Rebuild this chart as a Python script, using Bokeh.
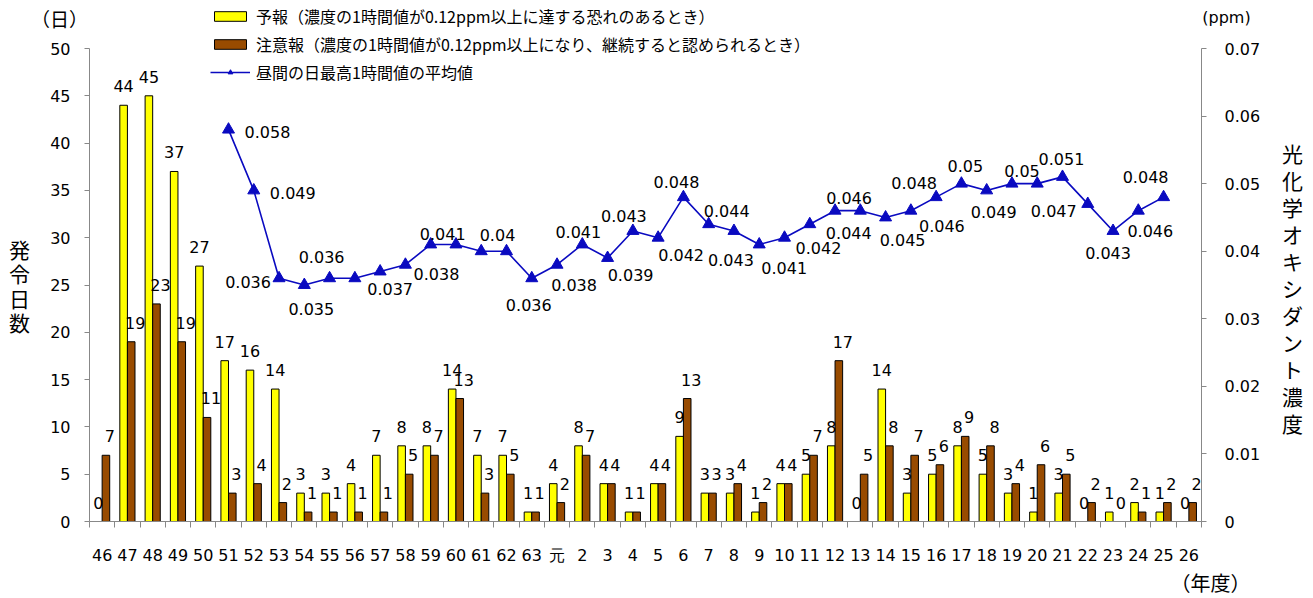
from bokeh.plotting import figure
from bokeh.models import (Range1d, LinearAxis, FixedTicker, CustomJSTickFormatter,
                          ColumnDataSource, Label, Legend, LegendItem)
from bokeh.embed import file_html
from bokeh.resources import INLINE
from bokeh.core.properties import value

# ---------------- data ----------------
YEARS = ["46", "47", "48", "49", "50", "51", "52", "53", "54", "55", "56", "57",
         "58", "59", "60", "61", "62", "63", "元", "2", "3", "4", "5", "6", "7",
         "8", "9", "10", "11", "12", "13", "14", "15", "16", "17", "18", "19",
         "20", "21", "22", "23", "24", "25", "26"]

FORECAST = [0, 44, 45, 37, 27, 17, 16, 14, 3, 3, 4, 7, 8, 8, 14, 7, 7, 1, 4, 8,
            4, 1, 4, 9, 3, 3, 1, 4, 5, 8, 0, 14, 3, 5, 8, 5, 3, 1, 3, 0, 1, 2, 1, 0]

WARNING = [7, 19, 23, 19, 11, 3, 4, 2, 1, 1, 1, 1, 5, 7, 13, 3, 5, 1, 2, 7,
           4, 1, 4, 13, 3, 4, 2, 4, 7, 17, 5, 8, 7, 6, 9, 8, 4, 6, 5, 2, 0, 1, 2, 2]

PPM = [None, None, None, None, None, 0.058, 0.049, 0.036, 0.035, 0.036, 0.036,
       0.037, 0.038, 0.041, 0.041, 0.040, 0.040, 0.036, 0.038, 0.041, 0.039,
       0.043, 0.042, 0.048, 0.044, 0.043, 0.041, 0.042, 0.044, 0.046, 0.046,
       0.045, 0.046, 0.048, 0.050, 0.049, 0.050, 0.050, 0.051, 0.047, 0.043,
       0.046, 0.048, None]

LEFT_TICKS = [0, 5, 10, 15, 20, 25, 30, 35, 40, 45, 50]
RIGHT_TICKS = [0, 0.01, 0.02, 0.03, 0.04, 0.05, 0.06, 0.07]
LEFT_MAX = 50
RIGHT_MAX = 0.07

LEGEND_LABELS = ["予報（濃度の1時間値が0.12ppm以上に達する恐れのあるとき）",
                 "注意報（濃度の1時間値が0.12ppm以上になり、継続すると認められるとき）",
                 "昼間の日最高1時間値の平均値"]
LEFT_TITLE = "発令日数"
RIGHT_TITLE = "光化学オキシダント濃度"
LEFT_UNIT = "（日）"
RIGHT_UNIT = "(ppm)"
X_UNIT = "（年度）"

# placement of line value labels (pixel offsets); None = label hidden as in original
LINE_LABEL_OFFSETS = [None, None, None, None, None,
                      (39, 2), (39, 3), (-31, 4), (7, 24), (-8, -21), None,
                      (10, 18), (31, 9), (12, -10), None, None, (-9, -16), (-3, 27),
                      (17, 20), (-4, -12), (23, 17), (-9, -15), (23, 17), (-7, -15),
                      (18, -13), (-3, 29), (25, 24), (34, 10), (39, 9), (14, -13),
                      None, (17, 23), (31, 15), (-22, -14), (4, -18), (7, 22),
                      (10, -13), None, (-1, -18), (-34, 7), (-5, 22), (12, 20),
                      (-18, -20), None]

# ---------------- layout / style ----------------
W, H = 1313, 598
PLOT_L, PLOT_R, PLOT_T, PLOT_B = 89, 1201, 48, 521   # plot-area edges in px

YELLOW = "#FFFF00"
BROWN = "#984B00"
BLUE = "#0A0AC0"
AXIS_GRAY = "#888888"
NUM_FONT = "DejaVu Sans"
JP_FONT = "Noto Sans CJK JP"

n = len(YEARS)
idx = list(range(n))

# ranges chosen so that the frame fills the canvas and the category area
# lands on the plot-area edges
xpx = (PLOT_R - PLOT_L) / n
x0 = -0.5 - PLOT_L / xpx
x1 = n - 0.5 + (W - PLOT_R) / xpx
ypx = (PLOT_B - PLOT_T) / LEFT_MAX
y0 = -(H - PLOT_B) / ypx
y1 = LEFT_MAX + PLOT_T / ypx
k = RIGHT_MAX / LEFT_MAX

p = figure(width=W, height=H, output_backend="svg", toolbar_location=None,
           x_range=Range1d(x0, x1), y_range=Range1d(y0, y1),
           min_border=0, x_axis_type=None, y_axis_type=None)
p.title.visible = False
p.outline_line_color = None
p.xgrid.visible = False
p.ygrid.visible = False
p.background_fill_color = "white"
p.border_fill_color = "white"

p.extra_y_ranges = {"ppm": Range1d(y0 * k, y1 * k)}

# bars
src_f = ColumnDataSource(dict(x=[i - 0.15 for i in idx], top=FORECAST,
                              label=[str(v) for v in FORECAST]))
src_w = ColumnDataSource(dict(x=[i + 0.15 for i in idx], top=WARNING,
                              label=[str(v) for v in WARNING]))
bar_f = p.vbar(x="x", top="top", bottom=0, width=0.3, source=src_f,
               fill_color=YELLOW, line_color="black", line_width=1)
bar_w = p.vbar(x="x", top="top", bottom=0, width=0.3, source=src_w,
               fill_color=BROWN, line_color="black", line_width=1)
p.text(x="x", y="top", text="label", source=src_f, y_offset=-19,
       text_align="center", text_baseline="middle", text_font=value(NUM_FONT),
       text_font_size="16px", text_color="black")
p.text(x="x", y="top", text="label", source=src_w, y_offset=-19, x_offset=4,
       text_align="center", text_baseline="middle", text_font=value(NUM_FONT),
       text_font_size="16px", text_color="black")

# line
lx = [i for i in idx if PPM[i] is not None]
ly = [PPM[i] for i in lx]
src_l = ColumnDataSource(dict(x=lx, y=ly))
line_r = p.line(x="x", y="y", source=src_l, line_color=BLUE, line_width=1.6,
                y_range_name="ppm")
scat_r = p.scatter(x="x", y="y", source=src_l, marker="triangle", size=12,
                   fill_color=BLUE, line_color=BLUE, y_range_name="ppm")

lab_i = [i for i in lx if LINE_LABEL_OFFSETS[i] is not None]
src_ll = ColumnDataSource(dict(
    x=lab_i, y=[PPM[i] for i in lab_i],
    text=[f"{PPM[i]:g}" for i in lab_i],
    dx=[LINE_LABEL_OFFSETS[i][0] for i in lab_i],
    dy=[LINE_LABEL_OFFSETS[i][1] for i in lab_i]))
p.text(x="x", y="y", text="text", x_offset="dx", y_offset="dy", source=src_ll,
       y_range_name="ppm", text_align="center", text_baseline="middle",
       text_font=value(NUM_FONT), text_font_size="16px", text_color="black")

# axes (fixed at the plot-area edges, inside the full-canvas frame)
xa = LinearAxis(fixed_location=0, bounds=(-0.5, n - 0.5),
                ticker=FixedTicker(ticks=idx, minor_ticks=[i - 0.5 for i in range(n + 1)]),
                formatter=CustomJSTickFormatter(args=dict(labels=YEARS),
                                                code="return labels[Math.round(tick)] || '';"))
xa.major_tick_out = 0
xa.major_tick_in = 0
xa.minor_tick_out = 6
xa.minor_tick_in = 0
xa.minor_tick_line_color = AXIS_GRAY
xa.axis_line_color = AXIS_GRAY
xa.major_label_standoff = 18
xa.major_label_text_font = NUM_FONT
xa.major_label_text_font_size = "16px"
xa.major_label_text_color = "black"
p.add_layout(xa, "below")

ya = LinearAxis(fixed_location=-0.5, bounds=(0, LEFT_MAX),
                ticker=FixedTicker(ticks=LEFT_TICKS))
ya.major_tick_out = 5
ya.major_tick_in = 0
ya.minor_tick_out = 0
ya.minor_tick_in = 0
ya.axis_line_color = AXIS_GRAY
ya.major_tick_line_color = AXIS_GRAY
ya.major_label_standoff = 14
ya.major_label_text_font = NUM_FONT
ya.major_label_text_font_size = "16px"
ya.major_label_text_color = "black"
p.add_layout(ya, "left")

ra = LinearAxis(y_range_name="ppm", fixed_location=n - 0.5, bounds=(0, RIGHT_MAX),
                ticker=FixedTicker(ticks=RIGHT_TICKS),
                formatter=CustomJSTickFormatter(
                    code="return tick === 0 ? '0' : tick.toFixed(2);"))
ra.major_tick_out = 5
ra.major_tick_in = 0
ra.minor_tick_out = 0
ra.minor_tick_in = 0
ra.axis_line_color = AXIS_GRAY
ra.major_tick_line_color = AXIS_GRAY
ra.major_label_standoff = 18
ra.major_label_text_font = NUM_FONT
ra.major_label_text_font_size = "16px"
ra.major_label_text_color = "black"
p.add_layout(ra, "right")

# legend
legend = Legend(items=[
    LegendItem(label=value(LEGEND_LABELS[0]), renderers=[bar_f]),
    LegendItem(label=value(LEGEND_LABELS[1]), renderers=[bar_w]),
    LegendItem(label=value(LEGEND_LABELS[2]), renderers=[line_r, scat_r]),
], location=(210, 514), orientation="vertical", padding=0, margin=0, spacing=4,
    glyph_width=40, glyph_height=12, label_height=22, label_standoff=6,
    label_text_font=JP_FONT, label_text_font_size="16px", label_text_color="black",
    border_line_color=None, background_fill_alpha=0)
p.add_layout(legend)

# titles / unit labels (screen px, origin bottom-left of canvas)
def add_label(x, y_from_top, text, font, size, line_height=1.2):
    p.add_layout(Label(x=x, y=H - y_from_top, x_units="screen", y_units="screen",
                       text=text, text_align="center", text_baseline="middle",
                       text_font=font, text_font_size=size, text_color="black",
                       text_line_height=line_height))

add_label(19, 285, "\n".join(LEFT_TITLE), JP_FONT, "21px", 0.82)
add_label(1292, 287, "\n".join(RIGHT_TITLE), JP_FONT, "21px", 0.9)
add_label(59, 18, LEFT_UNIT, JP_FONT, "19px")
add_label(1226, 17, RIGHT_UNIT, NUM_FONT, "16px")
add_label(1210, 582, X_UNIT, JP_FONT, "20px")

open("out.html", "w").write(file_html(p, INLINE))
